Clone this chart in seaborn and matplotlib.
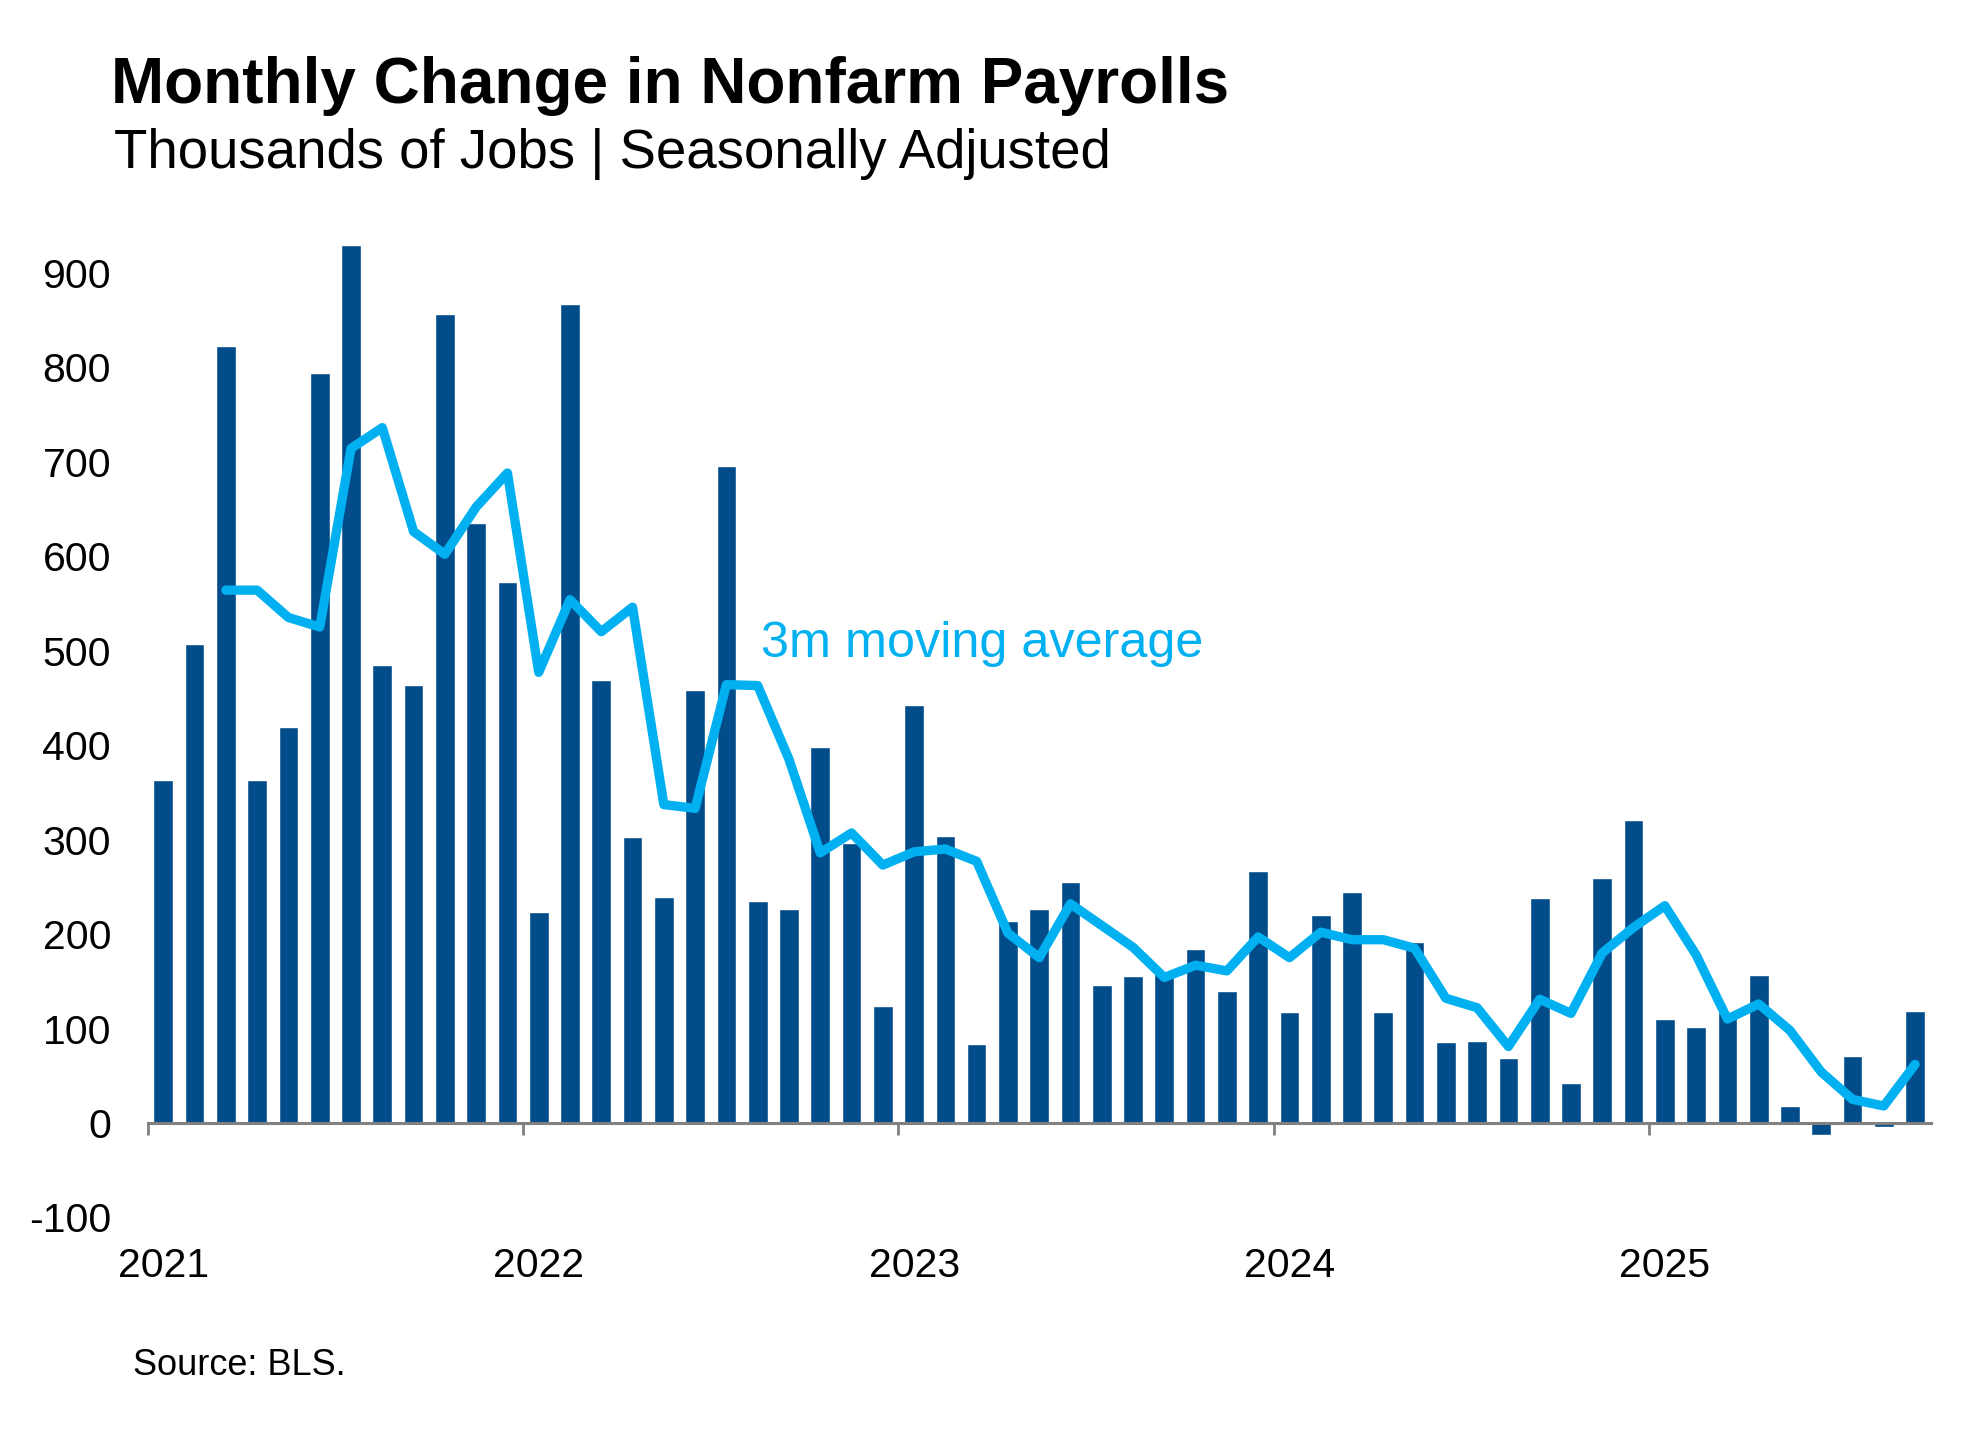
import numpy as np
import pandas as pd
import matplotlib
matplotlib.use("Agg")
import matplotlib.pyplot as plt
import seaborn as sns

# ---------------- data ----------------
years = ["2021", "2022", "2023", "2024", "2025"]
months = [f"{y}-{m:02d}" for y in years for m in range(1, 13)][:57]

payrolls_2021 = [363, 507, 822, 363, 419, 794, 929, 485, 464, 856, 635, 573]
payrolls_2022 = [223, 867, 469, 303, 239, 458, 695, 235, 226, 398, 296, 124]
payrolls_2023 = [442, 304, 84, 214, 226, 255, 146, 156, 160, 184, 140, 267]
payrolls_2024 = [118, 220, 245, 117, 192, 86, 87, 69, 238, 42, 259, 321]
payrolls_2025 = [110, 102, 118, 157, 18, -13, 71, -4, 119]
payrolls = payrolls_2021 + payrolls_2022 + payrolls_2023 + payrolls_2024 + payrolls_2025

# 3-month moving average (starts March 2021)
moving_avg = [564, 564, 535, 525, 714, 736, 626, 602, 652, 688,
              477, 554, 520, 546, 337, 333, 464, 463, 385, 286, 307, 273,
              287, 290, 277, 201, 175, 232, 209, 186, 154, 167, 161, 197,
              175, 202, 194, 194, 185, 132, 122, 81, 131, 116, 180, 207,
              230, 178, 110, 126, 98, 54, 25, 18, 62]
ma_months = months[2:]

y_ticks = [-100, 0, 100, 200, 300, 400, 500, 600, 700, 800, 900]
y_tick_labels = ["-100", "0", "100", "200", "300", "400", "500", "600", "700", "800", "900"]

title = "Monthly Change in Nonfarm Payrolls"
subtitle = "Thousands of Jobs | Seasonally Adjusted"
source = "Source: BLS."
line_label = "3m moving average"

BAR_COLOR = "#024C89"
LINE_COLOR = "#00B0F0"
AXIS_GREY = "#808080"

# ---------------- style ----------------
sns.set_theme(style="white")
plt.rcParams["font.family"] = ["Liberation Sans", "DejaVu Sans"]
plt.rcParams["axes.unicode_minus"] = False

fig = plt.figure(figsize=(19.81, 14.43), dpi=100)
ax = fig.add_axes([0.07456, 0.1432, 0.90005, 0.7071])

df = pd.DataFrame({"month": months, "value": payrolls})
sns.barplot(data=df, x="month", y="value", color=BAR_COLOR, saturation=1,
            width=0.63, ax=ax, order=months)

pos = {m: i for i, m in enumerate(months)}
df_ma = pd.DataFrame({"x": [pos[m] for m in ma_months], "ma": moving_avg})
sns.lineplot(data=df_ma, x="x", y="ma", color=LINE_COLOR, linewidth=6.7,
             ax=ax, solid_capstyle="round", solid_joinstyle="round", zorder=5)

ax.text(19.12, 493, line_label, color=LINE_COLOR, fontsize=36.3,
        ha="left", va="baseline")

ax.set_xlim(-0.5, len(months) - 0.5)
ax.set_ylim(-120, 960)

# spines
for s in ["top", "right", "left"]:
    ax.spines[s].set_visible(False)
ax.spines["bottom"].set_position(("data", 0))
ax.spines["bottom"].set_color(AXIS_GREY)
ax.spines["bottom"].set_linewidth(2.2)
ax.spines["bottom"].set_zorder(6)

# x ticks: marks at year boundaries, labels under January bars
year_starts = [months.index(f"{y}-01") for y in years]
ax.set_xticks([p - 0.5 for p in year_starts])
ax.set_xticklabels([""] * len(year_starts))
ax.set_xticks(year_starts, minor=True)
ax.set_xticklabels(years, minor=True)
ax.tick_params(axis="x", which="major", direction="out", length=8.6, width=2,
               color=AXIS_GREY, bottom=True)
ax.tick_params(axis="x", which="minor", length=0, pad=89, labelsize=29.5,
               labelcolor="black", bottom=True)

ax.set_yticks(y_ticks)
ax.set_yticklabels(y_tick_labels)
ax.tick_params(axis="y", length=0, pad=26.4, labelsize=29.5, labelcolor="black")

ax.set_xlabel("")
ax.set_ylabel("")
ax.grid(False)

fig.text(0.0558, 0.9288, title, fontsize=46, fontweight="bold",
         ha="left", va="baseline", color="black")
fig.text(0.0574, 0.8834, subtitle, fontsize=39.3, ha="left", va="baseline",
         color="black")
fig.text(0.0672, 0.0471, source, fontsize=26, ha="left", va="baseline",
         color="black")

fig.savefig("out.png", dpi=100)
